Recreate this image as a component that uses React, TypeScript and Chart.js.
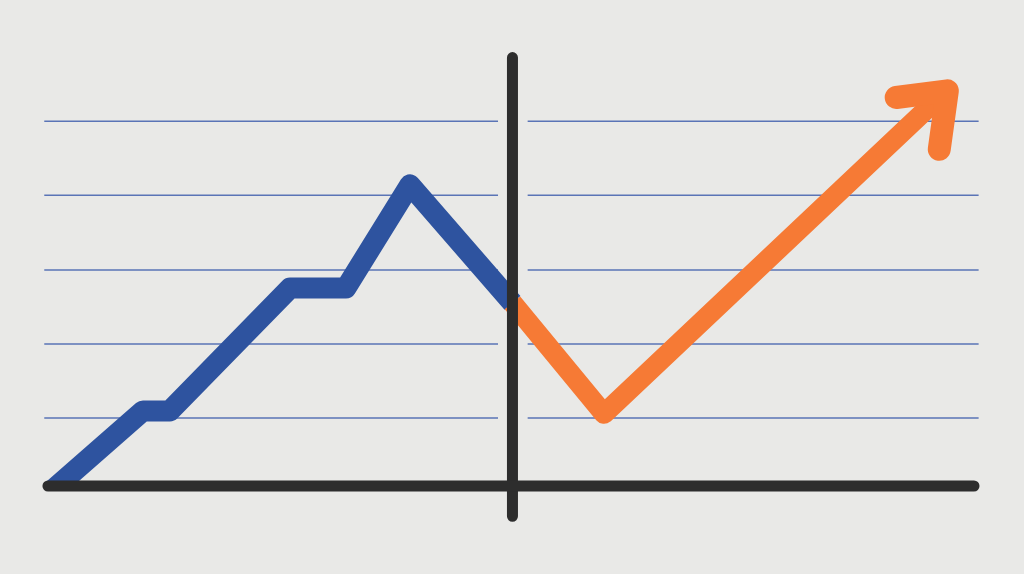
import React, { useEffect, useRef } from "react";
import { Chart, registerables } from "chart.js";

Chart.register(...registerables);

// x: time units along the axis (0..100), y: value units above the baseline
const gridValues = [18.4, 38.4, 58.4, 78.6, 98.6];
const gridLeftX = -0.4;
const gridGapLeftX = 48.6;
const gridGapRightX = 51.8;
const gridRightX = 100.5;

const blueX = [0.1, 10.26, 13.17, 26.13, 32.18, 39.09, 50.16];
const blueY = [-2.0, 20.3, 20.3, 53.5, 53.5, 81.4, 49.5];

const orangeX = [50.16, 60.04, 97.08];
const orangeY = [49.5, 19.5, 107.0];

const arrowX = [91.6, 97.12, 96.25];
const arrowY = [105.0, 106.8, 91.0];

const baselineX = [0, 100];
const baselineY = [0, 0];

const dividerX = [50.16, 50.16];
const dividerY = [115.8, -8.2];

const X_MIN = -5.18;
const X_MAX = 105.4;
const Y_MIN = -23.78;
const Y_MAX = 131.35;

const BG = "#e9e9e7";

function pts(xs: number[], ys: number[]) {
  return xs.map((x, i) => ({ x, y: ys[i] }));
}

function gridPoints() {
  const out: { x: number; y: number | null }[] = [];
  gridValues.forEach((v) => {
    out.push({ x: gridLeftX, y: v });
    out.push({ x: gridGapLeftX, y: v });
    out.push({ x: gridGapLeftX, y: null });
    out.push({ x: gridGapRightX, y: v });
    out.push({ x: gridRightX, y: v });
    out.push({ x: gridRightX, y: null });
  });
  return out;
}

export default function App() {
  const ref = useRef<HTMLCanvasElement | null>(null);

  useEffect(() => {
    document.body.style.margin = "0";
    document.body.style.background = BG;
    const canvas = ref.current;
    if (!canvas) return;
    const common = {
      pointRadius: 0,
      pointHoverRadius: 0,
      tension: 0,
      fill: false,
      clip: false as any,
    };
    const chart = new Chart(canvas, {
      type: "line",
      data: {
        datasets: [
          {
            ...common,
            label: "baseline",
            data: pts(baselineX, baselineY),
            borderColor: "#2d2d2d",
            borderWidth: 11,
            borderCapStyle: "round",
            order: 0,
          },
          {
            ...common,
            label: "divider",
            data: pts(dividerX, dividerY),
            borderColor: "#2d2d2d",
            borderWidth: 11,
            borderCapStyle: "round",
            order: 0,
          },
          {
            ...common,
            label: "arrow",
            data: pts(arrowX, arrowY),
            borderColor: "#f67a35",
            borderWidth: 23,
            borderCapStyle: "round",
            borderJoinStyle: "round",
            order: 1,
          },
          {
            ...common,
            label: "after",
            data: pts(orangeX, orangeY),
            borderColor: "#f67a35",
            borderWidth: 20,
            borderCapStyle: "butt",
            borderJoinStyle: "round",
            order: 2,
          },
          {
            ...common,
            label: "before",
            data: pts(blueX, blueY),
            borderColor: "#2e539f",
            borderWidth: 21,
            borderCapStyle: "butt",
            borderJoinStyle: "round",
            clip: { left: -43, top: false, right: false, bottom: -86 } as any,
            order: 3,
          },
          {
            ...common,
            label: "grid",
            data: gridPoints() as any,
            borderColor: "#5a74b6",
            borderWidth: 1.5,
            spanGaps: false,
            order: 4,
          },
        ],
      },
      options: {
        animation: false,
        responsive: false,
        maintainAspectRatio: false,
        events: [],
        layout: { padding: 0 },
        plugins: {
          legend: { display: false },
          tooltip: { enabled: false },
          title: { display: false },
        },
        scales: {
          x: { type: "linear", min: X_MIN, max: X_MAX, display: false },
          y: { type: "linear", min: Y_MIN, max: Y_MAX, display: false },
        },
      },
    });
    return () => chart.destroy();
  }, []);

  return (
    <div
      style={{
        position: "fixed",
        left: 0,
        top: 0,
        width: 1024,
        height: 574,
        background: BG,
      }}
    >
      <canvas ref={ref} width={1024} height={574} style={{ display: "block" }} />
    </div>
  );
}
